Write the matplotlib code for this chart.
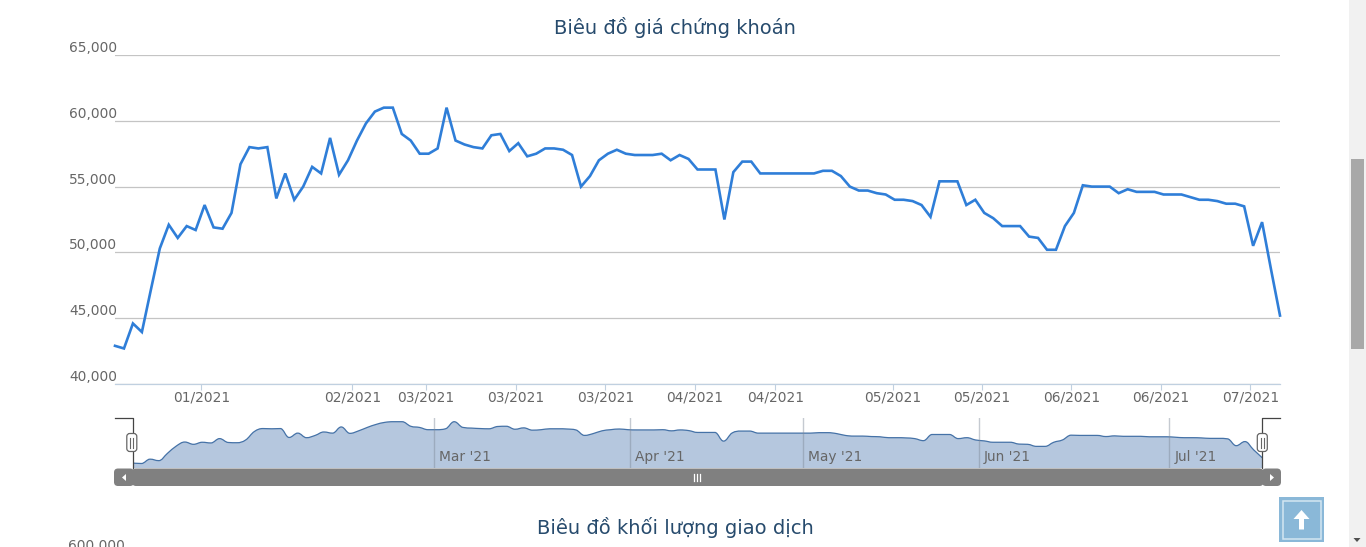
import numpy as np
import matplotlib
matplotlib.use("Agg")
import matplotlib.pyplot as plt
from matplotlib.path import Path
from matplotlib.patches import PathPatch, FancyBboxPatch, Rectangle, Polygon

plt.rcParams['font.family'] = ['DejaVu Sans']

W, H = 1366, 547

prices = [42900, 42700, 44600, 43950, 47150, 50300, 52100, 51100, 52000, 51700,
          53600, 51900, 51800, 53000, 56700, 58000, 57900, 58000, 54100, 56000,
          54000, 55000, 56500, 56000, 58700, 55900, 57000, 58500, 59800, 60700,
          61000, 61000, 59000, 58500, 57500, 57500, 57900, 61000, 58500, 58200,
          58000, 57900, 58900, 59000, 57700, 58300, 57300, 57500, 57900, 57900,
          57800, 57400, 55000, 55800, 57000, 57500, 57800, 57500, 57400, 57400,
          57400, 57500, 57000, 57400, 57100, 56300, 56300, 56300, 52500, 56100,
          56900, 56900, 56000, 56000, 56000, 56000, 56000, 56000, 56000, 56200,
          56200, 55800, 55000, 54700, 54700, 54500, 54400, 54000, 54000, 53900,
          53600, 52700, 55400, 55400, 55400, 53600, 54000, 53000, 52600, 52000,
          52000, 52000, 51200, 51100, 50200, 50200, 52000, 53000, 55100, 55000,
          55000, 55000, 54500, 54800, 54600, 54600, 54600, 54400, 54400, 54400,
          54200, 54000, 54000, 53900, 53700, 53700, 53500, 50500, 52300, 48700,
          45200]

y_ticks = [40000, 45000, 50000, 55000, 60000, 65000]
x_tick_pos = [9.65, 26.5, 34.7, 44.7, 54.7, 64.7, 73.7, 86.8, 96.7, 106.7, 116.7, 126.7]
x_tick_labels = ['01/2021', '02/2021', '03/2021', '03/2021', '03/2021', '04/2021',
                 '04/2021', '05/2021', '05/2021', '06/2021', '06/2021', '07/2021']
nav_tick_pos = [34.7, 57.2, 77.1, 97.4, 119.3]
nav_tick_labels = ["Mar '21", "Apr '21", "May '21", "Jun '21", "Jul '21"]

title_main = 'Biêu đồ giá chứng khoán'
title_second = 'Biêu đồ khối lượng giao dịch'
next_chart_label = '600,000'

LABEL = '#666666'
TITLE = '#274b6d'
FS = 9.9


def axes_px(fig, x0, y0, x1, y1, **kw):
    return fig.add_axes([x0 / W, 1 - y1 / H, (x1 - x0) / W, (y1 - y0) / H], **kw)


def spline_path(xs, ys, base):
    """Highcharts-style smoothed curve through the data, as Bezier segments."""
    n = len(xs)
    verts = [(xs[0], ys[0])]
    codes = [Path.MOVETO]
    rc = [(xs[0], ys[0])] * n
    lc = [(xs[0], ys[0])] * n
    for i in range(1, n - 1):
        x, y = xs[i], ys[i]
        lx = (1.5 * x + xs[i - 1]) / 2.5
        ly = (1.5 * y + ys[i - 1]) / 2.5
        rx = (1.5 * x + xs[i + 1]) / 2.5
        ry = (1.5 * y + ys[i + 1]) / 2.5
        c = (ry - ly) * (rx - x) / (rx - lx) + y - ry
        ly += c
        ry += c
        if (ly > ys[i - 1] and ly > y):
            ly = max(ys[i - 1], y); ry = 2 * y - ly
        elif (ly < ys[i - 1] and ly < y):
            ly = min(ys[i - 1], y); ry = 2 * y - ly
        if (ry > ys[i + 1] and ry > y):
            ry = max(ys[i + 1], y); ly = 2 * y - ry
        elif (ry < ys[i + 1] and ry < y):
            ry = min(ys[i + 1], y); ly = 2 * y - ry
        lc[i] = (lx, ly)
        rc[i] = (rx, ry)
    lc[n - 1] = (xs[n - 1], ys[n - 1])
    for i in range(1, n):
        verts += [rc[i - 1], lc[i], (xs[i], ys[i])]
        codes += [Path.CURVE4] * 3
    line = Path(verts, codes)
    area = Path(verts + [(xs[-1], base), (xs[0], base), (xs[0], ys[0])],
                codes + [Path.LINETO, Path.LINETO, Path.CLOSEPOLY])
    return line, area


fig = plt.figure(figsize=(W / 100, H / 100), dpi=100, facecolor='white')

# ---- main chart
idx = np.arange(len(prices))
ax = axes_px(fig, 115, 55, 1280, 384)
ax.set_xlim(0, len(prices) - 1)
ax.set_ylim(y_ticks[0], y_ticks[-1])
ax.plot(idx, prices, color='#2f7ed8', lw=1.9, solid_joinstyle='miter', clip_on=False, zorder=3)
for s in ['top', 'left', 'right']:
    ax.spines[s].set_visible(False)
ax.spines['bottom'].set_color('#c0d0e0')
ax.spines['bottom'].set_linewidth(0.9)
ax.set_yticks(y_ticks)
ax.set_yticklabels([f'{v:,}' for v in y_ticks], fontsize=FS, color=LABEL, va='bottom')
ax.tick_params(axis='y', length=0, pad=-1.5)
ax.grid(axis='y', color='#c4c4c4', lw=0.9)
ax.set_axisbelow(True)
ax.set_xticks(x_tick_pos)
ax.set_xticklabels(x_tick_labels, fontsize=FS, color=LABEL)
ax.tick_params(axis='x', length=4.5, width=0.8, color='#c0d0e0', pad=0.2)
ax.patch.set_alpha(0)

# ---- navigator
nav = axes_px(fig, 132.7, 418, 1262.3, 468)
nav.set_xlim(0, len(prices) - 1)
nav.set_ylim(40730, 62620)
nav.axis('off')
line, area = spline_path(idx.astype(float), np.array(prices, float), 40730)
nav.add_patch(PathPatch(area, facecolor='#b5c7de', edgecolor='none', zorder=2))
nav.add_patch(PathPatch(line, facecolor='none', edgecolor='#4572a7', lw=0.9, zorder=3))
for p, t in zip(nav_tick_pos, nav_tick_labels):
    nav.axvline(p, color='#7f8a99', alpha=0.45, lw=1.0, zorder=4)
    nav.annotate(t, xy=(p, 40730), xycoords='data', xytext=(3.6, 2.6), textcoords='offset points',
                 fontsize=FS, color=LABEL, ha='left', va='bottom', zorder=5)

# ---- page furniture drawn in pixel coordinates
ui = axes_px(fig, 0, 0, W, H)
ui.set_xlim(0, W)
ui.set_ylim(H, 0)
ui.axis('off')
ui.patch.set_alpha(0)

ui.text(675, 28, title_main, fontsize=14.05, color=TITLE, ha='center', va='center')
ui.text(675, 528, title_second, fontsize=14.05, color=TITLE, ha='center', va='center')
ui.text(125, 545.5, next_chart_label, fontsize=FS, color=LABEL, ha='right', va='center')

# navigator scrollbar
GREY = '#808080'
for x0, x1 in [(114, 134), (132, 1263.5), (1262, 1281)]:
    ui.add_patch(FancyBboxPatch((x0 + 3, 468.5 + 3), x1 - x0 - 6, 17.5 - 6,
                                boxstyle='round,pad=3,rounding_size=4', fc=GREY, ec='none', zorder=2))
ui.add_patch(Polygon([(126, 474), (126, 481), (122, 477.5)], fc='white', ec='none', zorder=3))
ui.add_patch(Polygon([(1270, 474), (1270, 481), (1274, 477.5)], fc='white', ec='none', zorder=3))
for gx in (693.5, 696.5, 699.5):
    ui.plot([gx, gx], [474, 481], color='white', lw=0.9, zorder=3)

# navigator outline + handles
ui.plot([115, 132.7, 132.7], [418, 418, 468], color='#444444', lw=0.9, zorder=4)
ui.plot([1280, 1262.3, 1262.3], [418, 418, 468], color='#444444', lw=0.9, zorder=4)
for cx in (131.8, 1262.3):
    ui.add_patch(FancyBboxPatch((cx - 3, 435.5), 6, 14, boxstyle='round,pad=2,rounding_size=3',
                                fc='white', ec='#666666', lw=0.9, zorder=5))
    for d in (-1.5, 1.5):
        ui.plot([cx + d, cx + d], [438, 448], color='#666666', lw=0.8, zorder=6)

# back-to-top button
ui.add_patch(Rectangle((1279, 497), 45, 45, fc='#8ab8d8', ec='none', zorder=2))
ui.add_patch(Rectangle((1282.5, 500.5), 38, 38, fc='none', ec='#d4e6f2', lw=1.1, zorder=3))
ui.add_patch(Polygon([(1301.5, 510), (1309.5, 519), (1304, 519), (1304, 529.5), (1299, 529.5), (1299, 519), (1293.5, 519)],
                     fc='white', ec='none', zorder=3))

# browser scrollbar
ui.add_patch(Rectangle((1349, 0), 17, 547, fc='#f1f1f1', ec='none', zorder=2))
ui.add_patch(Rectangle((1351, 159), 13, 190, fc='#a8a8a8', ec='none', zorder=3))
ui.add_patch(Polygon([(1353.5, 538), (1360.5, 538), (1357, 542)], fc='#505050', ec='none', zorder=3))

fig.savefig('out.png', dpi=100, facecolor='white')
